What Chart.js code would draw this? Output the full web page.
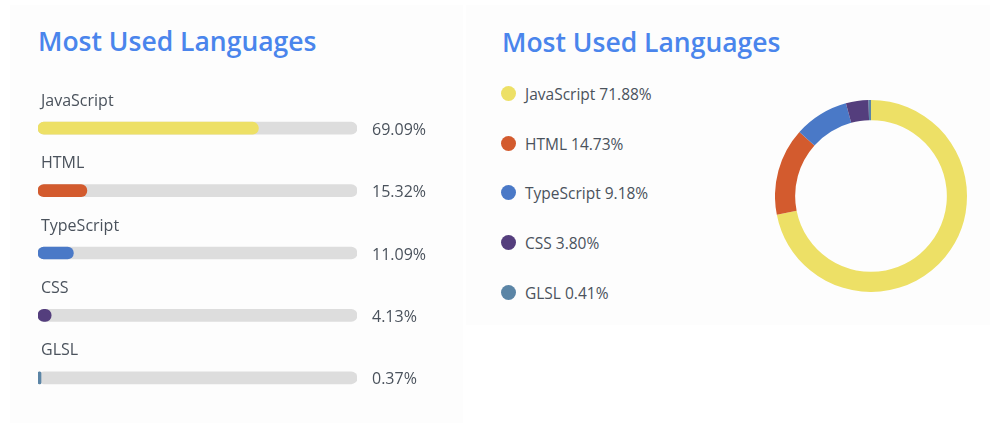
<!DOCTYPE html>
<html>
<head>
<meta charset="utf-8">
<script src="https://cdn.jsdelivr.net/npm/chart.js@4.4.1/dist/chart.umd.min.js"></script>
<style>
  html, body { margin: 0; padding: 0; background: #ffffff; }
  body { width: 1000px; height: 428px; position: relative; overflow: hidden; font-family: "Open Sans", sans-serif; }
  .card { position: absolute; background: #fdfdfd; }
  .title { position: absolute; margin: 0; font-size: 26.5px; line-height: 27px; font-weight: 600; color: #4a85ec; white-space: nowrap; }
  canvas { position: absolute; }
  #donutLegend { position: absolute; left: 500px; top: 84px; margin: 0; padding: 0; list-style: none; }
  #donutLegend li { height: 49.7px; display: flex; align-items: flex-start; font-size: 15.5px; line-height: 20px; color: #4a525c; }
  #donutLegend .dot { width: 15px; height: 15px; border-radius: 50%; margin: 2px 9px 0 1px; }
</style>
</head>
<body>
<div class="card" style="left:10px; top:5px; width:453px; height:418px;"></div>
<div class="card" style="left:466px; top:5px; width:524px; height:320px;"></div>

<h2 class="title" style="left:38px; top:28px;">Most Used Languages</h2>
<h2 class="title" style="left:502px; top:29px;">Most Used Languages</h2>

<canvas id="barChart" width="465" height="340" style="left:0; top:80px;"></canvas>
<canvas id="donutChart" width="192" height="192" style="left:775px; top:100px;"></canvas>
<ul id="donutLegend"></ul>

<script>
// left card: top languages by bytes
const languages = ['JavaScript', 'HTML', 'TypeScript', 'CSS', 'GLSL'];
const barValues = [69.09, 15.32, 11.09, 4.13, 0.37];
const trackValues = [100, 100, 100, 100, 100];

// right card: same languages, donut share
const donutLabels = ['JavaScript', 'HTML', 'TypeScript', 'CSS', 'GLSL'];
const donutValues = [71.88, 14.73, 9.18, 3.80, 0.41];

const langColors = ['#ede066', '#d35b2e', '#4a79c7', '#543e7d', '#5b85a6'];
const textColor = '#4a525c';

// draws the name above each bar and the percentage after the track
const barText = {
    id: 'barText',
    afterDatasetsDraw(chart) {
        const { ctx, scales: { x, y } } = chart;
        ctx.save();
        ctx.font = '16px "Open Sans"';
        ctx.fillStyle = textColor;
        ctx.textBaseline = 'middle';
        ctx.textAlign = 'left';
        languages.forEach((name, i) => {
            const cy = y.getPixelForValue(i);
            ctx.fillText(name, x.left + 3, cy - 27);
            ctx.fillText(barValues[i].toFixed(2) + '%', x.getPixelForValue(100) + 15, cy + 2);
        });
        ctx.restore();
    }
};

new Chart(document.getElementById('barChart').getContext('2d'), {
    type: 'bar',
    data: {
        labels: languages,
        datasets: [
            {
                data: barValues,
                backgroundColor: langColors,
                barThickness: 12,
                borderRadius: 6,
                borderSkipped: false,
                minBarLength: 3,
                grouped: false,
                order: 0
            },
            {
                data: trackValues,
                backgroundColor: '#dddddd',
                barThickness: 12,
                borderRadius: 6,
                borderSkipped: false,
                grouped: false,
                order: 1
            }
        ]
    },
    options: {
        indexAxis: 'y',
        responsive: false,
        animation: false,
        layout: { padding: { left: 38, right: 108, top: 17, bottom: 11 } },
        scales: {
            x: { min: 0, max: 100, display: false },
            y: { display: false }
        },
        plugins: {
            legend: { display: false },
            tooltip: { enabled: false }
        }
    },
    plugins: [barText]
});

const donut = new Chart(document.getElementById('donutChart').getContext('2d'), {
    type: 'doughnut',
    data: {
        labels: donutLabels,
        datasets: [{
            data: donutValues,
            backgroundColor: langColors,
            borderWidth: 0
        }]
    },
    options: {
        responsive: false,
        animation: false,
        cutout: '79%',
        plugins: {
            legend: { display: false },
            tooltip: { enabled: false }
        }
    }
});

// legend list built from the chart's own legend items
const legendList = document.getElementById('donutLegend');
donut.options.plugins.legend.labels.generateLabels(donut).forEach((item, i) => {
    const li = document.createElement('li');
    const dot = document.createElement('span');
    dot.className = 'dot';
    dot.style.background = item.fillStyle;
    li.appendChild(dot);
    li.appendChild(document.createTextNode(item.text + ' ' + donutValues[i].toFixed(2) + '%'));
    legendList.appendChild(li);
});
</script>
</body>
</html>
